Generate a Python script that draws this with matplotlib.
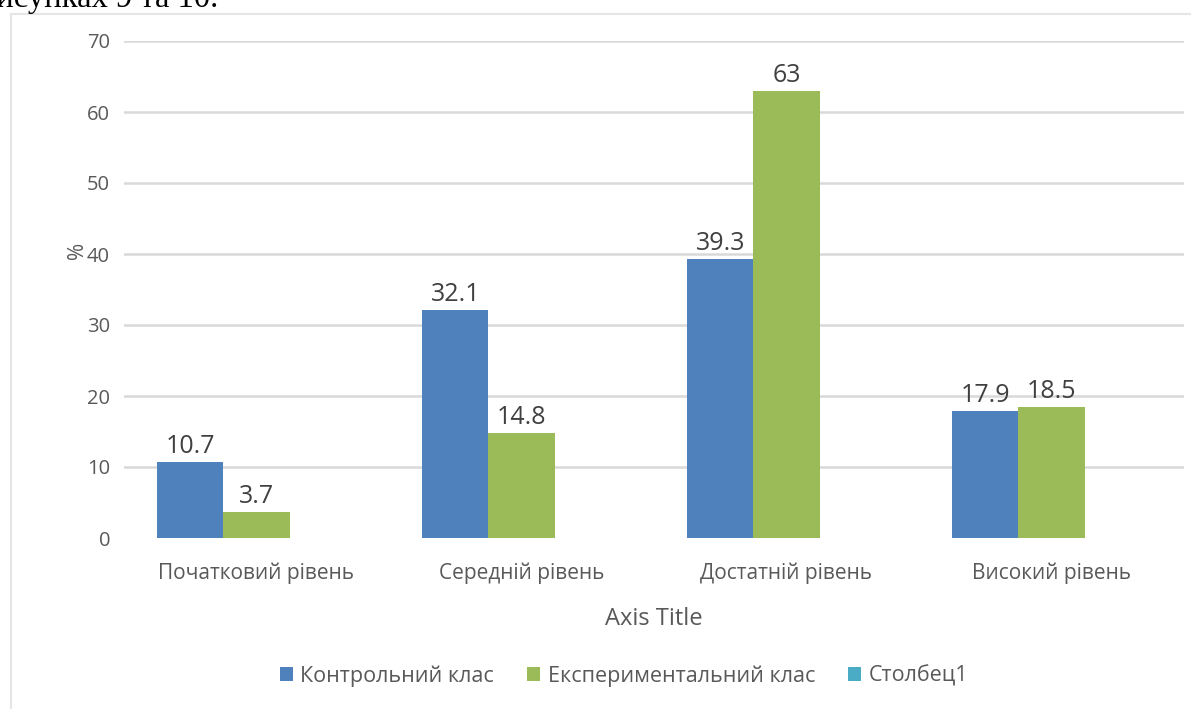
import matplotlib.pyplot as plt
import numpy as np
from matplotlib.lines import Line2D
from matplotlib.patches import Patch

plt.rcParams['font.family'] = ['Open Sans', 'DejaVu Sans']

categories = ['Початковий рівень', 'Середній рівень', 'Достатній рівень', 'Високий рівень']
series_names = ['Контрольний клас', 'Експериментальний клас', 'Столбец1']
control = [10.7, 32.1, 39.3, 17.9]
experimental = [3.7, 14.8, 63, 18.5]
colors = ['#4F81BD', '#9BBB59', '#4BACC6']
yticks = [0, 10, 20, 30, 40, 50, 60, 70]

fig = plt.figure(figsize=(11.98, 7.09), dpi=100)
ax = fig.add_axes([124 / 1198, 1 - 538 / 709, 1060 / 1198, 497 / 709])

x = np.arange(len(categories))
w = 0.25
b1 = ax.bar(x - w, control, w, color=colors[0], zorder=3)
b2 = ax.bar(x, experimental, w, color=colors[1], zorder=3)
# третій ряд порожній, лише займає місце у групі

for bars, vals in ((b1, control), (b2, experimental)):
    for rect, v in zip(bars, vals):
        ax.annotate(f'{v:g}', (rect.get_x() + rect.get_width() / 2, v),
                    xytext=(0, 2), textcoords='offset points',
                    ha='center', va='bottom', fontsize=18, color='#404040')

ax.set_xlim(-0.5, len(categories) - 0.5)
ax.set_ylim(0, 70)
ax.set_yticks(yticks)
ax.set_xticks(x)
ax.set_xticklabels(categories)
for t in yticks[1:]:
    ax.axhline(t, color='#D9D9D9', lw=1.8, zorder=1)
for s in ax.spines.values():
    s.set_visible(False)
ax.tick_params(length=0, labelsize=14.5, colors='#595959')
ax.tick_params(axis='x', labelsize=15, pad=18)
ax.tick_params(axis='y', pad=10)

ax.set_xlabel('Axis Title', fontsize=17, color='#595959', labelpad=16)
fig.text(78 / 1198, 1 - 250 / 709, '%', rotation=90, ha='center', va='center',
         fontsize=15, color='#595959')

handles = [Patch(facecolor=c, edgecolor='none') for c in colors]
fig.legend(handles, series_names, loc='center', bbox_to_anchor=(624 / 1198, 1 - 676 / 709),
           ncol=3, frameon=False, fontsize=15.5, labelcolor='#595959',
           handlelength=0.6, handleheight=0.6, handletextpad=0.35, columnspacing=1.55)

# рамка області діаграми
fig.add_artist(Line2D([10.5 / 1198, 10.5 / 1198], [0, 1 - 14 / 709], color='#E6E6E6', lw=1.5))
fig.add_artist(Line2D([10.5 / 1198, 1190 / 1198], [1 - 14 / 709, 1 - 14 / 709], color='#E6E6E6', lw=1.5))

fig.text(218 / 1198, 1 - 7 / 709, 'рисунках 9 та 10.', family='Liberation Serif',
         fontsize=23.5, color='black', ha='right', va='baseline')

fig.savefig('out.png', dpi=100)
